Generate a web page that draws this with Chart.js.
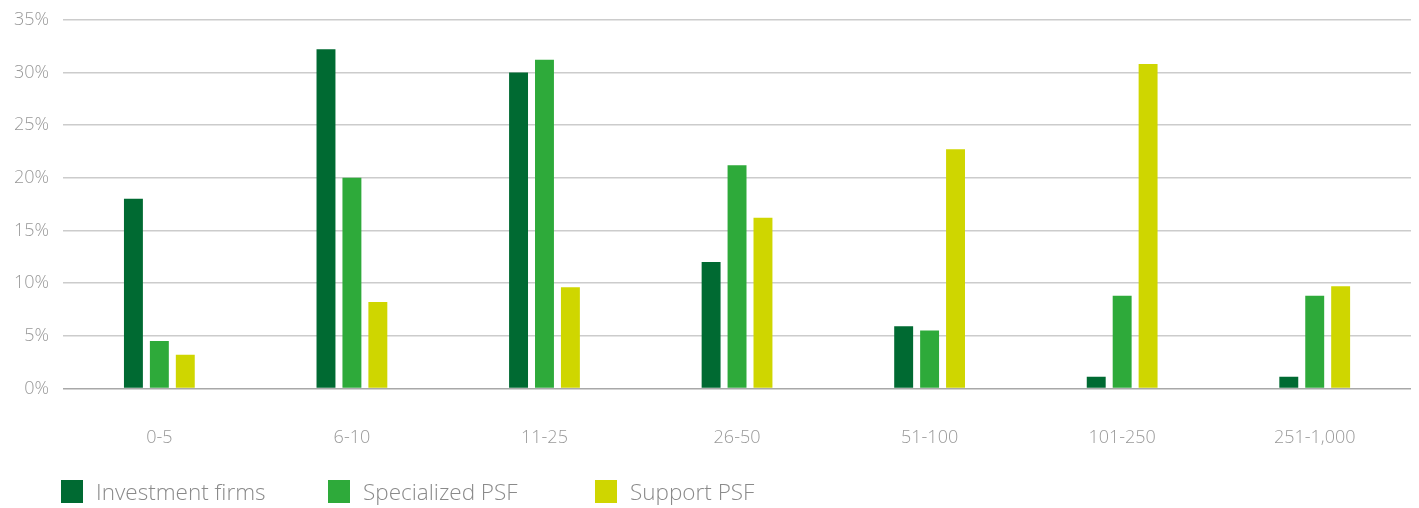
<!DOCTYPE html>
<html>
<head>
<meta charset="utf-8">
<script src="https://cdn.jsdelivr.net/npm/chart.js@4/dist/chart.umd.min.js"></script>
<style>
  html, body { margin: 0; padding: 0; background: #fff; overflow: hidden; }
  #wrap { position: relative; width: 1419px; height: 485px; margin-top: -5px; }
  #legend { position: absolute; left: 0; top: 476px; display: flex; padding-left: 61px; font-family: 'Open Sans', sans-serif; font-weight: 300; font-size: 22.5px; color: #8a8a8a; }
  .item { display: flex; align-items: center; width: 267px; }
  .box { width: 22px; height: 23px; margin-right: 13px; }
</style>
</head>
<body>
<div id="wrap"><canvas id="myBarChart"></canvas></div>
<div id="legend"></div>
<script>
const categories = ['0-5', '6-10', '11-25', '26-50', '51-100', '101-250', '251-1,000'];
const investmentFirms = [18.0, 32.2, 30.0, 12.0, 5.9, 1.1, 1.1];
const specializedPSF = [4.5, 20.0, 31.2, 21.2, 5.5, 8.8, 8.8];
const supportPSF = [3.2, 8.2, 9.6, 16.2, 22.7, 30.8, 9.7];
const yTicks = [0, 5, 10, 15, 20, 25, 30, 35];

const seriesNames = ['Investment firms', 'Specialized PSF', 'Support PSF'];
const seriesColors = ['#006a32', '#2eaa3a', '#cfd600'];

const ctx = document.getElementById('myBarChart');
const myBarChart = new Chart(ctx, {
  type: 'bar',
  data: {
    labels: categories,
    datasets: [investmentFirms, specializedPSF, supportPSF].map((vals, i) => ({
      label: seriesNames[i],
      backgroundColor: seriesColors[i],
      data: vals,
      categoryPercentage: 0.404,
      barPercentage: 0.73
    }))
  },
  options: {
    responsive: true,
    maintainAspectRatio: false,
    animation: false,
    layout: { padding: { top: 0, right: 8, left: 0, bottom: 0 } },
    plugins: {
      legend: { display: false },
      tooltip: { enabled: false }
    },
    scales: {
      x: {
        grid: { display: false },
        border: { display: false },
        ticks: {
          color: '#999',
          padding: 31,
          font: { family: 'Open Sans', size: 18, weight: 300 }
        }
      },
      y: {
        min: 0,
        max: 35,
        afterBuildTicks: axis => { axis.ticks = yTicks.map(v => ({ value: v })); },
        border: { display: false },
        grid: {
          drawTicks: false,
          color: c => (c.tick && c.tick.value === 0) ? '#a8a8a8' : '#cccccc',
          lineWidth: 1.5
        },
        ticks: {
          color: '#999',
          padding: 14,
          font: { family: 'Open Sans', size: 18, weight: 300 },
          callback: v => v + '%'
        }
      }
    }
  }
});

// legend built from the datasets
const legend = document.getElementById('legend');
myBarChart.data.datasets.forEach(ds => {
  const item = document.createElement('div');
  item.className = 'item';
  const box = document.createElement('div');
  box.className = 'box';
  box.style.background = ds.backgroundColor;
  const txt = document.createElement('span');
  txt.textContent = ds.label;
  item.appendChild(box);
  item.appendChild(txt);
  legend.appendChild(item);
});
</script>
</body>
</html>
